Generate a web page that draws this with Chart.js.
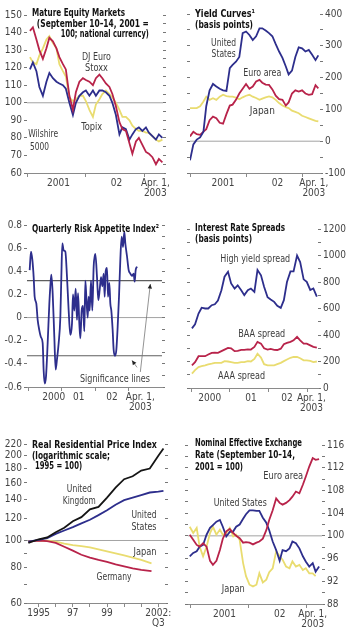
<!DOCTYPE html>
<html>
<head>
<meta charset="utf-8">
<script src="https://cdn.jsdelivr.net/npm/chart.js@4.4.1/dist/chart.umd.min.js"></script>
<style>
  html, body { margin: 0; padding: 0; background: #fff; }
  #wrap { position: relative; width: 350px; height: 636px; overflow: hidden; background: #fff; }
  canvas { position: absolute; }
</style>
</head>
<body>
<div id="wrap">
  <canvas id="equity" width="175" height="210" style="left:0;top:0"></canvas>
  <canvas id="yield" width="175" height="210" style="left:175px;top:0"></canvas>
  <canvas id="risk" width="175" height="210" style="left:0;top:210px"></canvas>
  <canvas id="spreads" width="175" height="210" style="left:175px;top:210px"></canvas>
  <canvas id="housing" width="175" height="216" style="left:0;top:420px"></canvas>
  <canvas id="fx" width="175" height="216" style="left:175px;top:420px"></canvas>
</div>
<script>
// --- data (decimal years on x) ---

// Mature equity markets (Sept 10-14, 2001 = 100)
const eqYears = [2001.05, 2001.10, 2001.16, 2001.21, 2001.27, 2001.33, 2001.38, 2001.44, 2001.50, 2001.55, 2001.61, 2001.66, 2001.72, 2001.78, 2001.83, 2001.89, 2001.95, 2002.00, 2002.06, 2002.12, 2002.17, 2002.23, 2002.28, 2002.34, 2002.40, 2002.45, 2002.51, 2002.57, 2002.62, 2002.68, 2002.74, 2002.79, 2002.85, 2002.90, 2002.96, 2003.02, 2003.07, 2003.13, 2003.19, 2003.24, 2003.30];
const euroStoxx = [141, 143, 136, 130, 125, 131, 137, 135, 131, 126, 122, 119, 104, 96, 106, 112, 114, 113, 112, 110, 114, 116, 114, 111, 109, 105, 98, 89, 85, 84, 77, 71, 78, 80, 76, 72, 71, 69, 65, 68, 66];
const wilshire = [119, 123, 118, 109, 104, 112, 117, 114, 112, 111, 110, 108, 100, 93, 100, 104, 106, 107, 104, 107, 104, 107, 107, 106, 104, 100, 93, 82, 86, 85, 79, 82, 85, 86, 84, 86, 83, 81, 79, 82, 80];
const topix = [126, 123, 122, 127, 131, 136, 138, 134, 131, 122, 118, 115, 103, 101, 102, 104, 104, 101, 96, 92, 99, 102, 105, 107, 105, 103, 100, 96, 92, 92, 90, 87, 85, 84, 84, 83, 83, 81, 79, 78, 79];

// Yield curves (basis points)
const ycYears = [2001.00, 2001.06, 2001.12, 2001.18, 2001.24, 2001.29, 2001.35, 2001.41, 2001.47, 2001.53, 2001.59, 2001.65, 2001.71, 2001.76, 2001.82, 2001.88, 2001.94, 2002.00, 2002.06, 2002.12, 2002.18, 2002.24, 2002.29, 2002.35, 2002.41, 2002.47, 2002.53, 2002.59, 2002.65, 2002.71, 2002.76, 2002.82, 2002.88, 2002.94, 2003.00, 2003.06, 2003.12, 2003.18, 2003.24, 2003.29];
const ycUS = [-60, -10, 5, 12, 30, 110, 160, 180, 172, 165, 160, 158, 230, 240, 250, 265, 340, 345, 334, 318, 330, 355, 355, 348, 340, 330, 305, 282, 262, 235, 210, 222, 265, 295, 292, 282, 287, 272, 255, 270];
const ycEuro = [15, 30, 22, 20, 30, 38, 66, 77, 72, 58, 55, 85, 112, 115, 130, 150, 165, 180, 165, 172, 188, 193, 184, 178, 177, 163, 143, 132, 130, 112, 122, 150, 160, 156, 160, 150, 146, 148, 176, 166];
const ycJapan = [104, 104, 104, 110, 125, 140, 130, 135, 130, 140, 146, 142, 140, 140, 137, 132, 138, 143, 146, 140, 136, 130, 134, 138, 141, 138, 130, 120, 112, 107, 104, 96, 92, 88, 80, 76, 72, 68, 64, 62];

// Quarterly risk appetite index
const riskYears = [2000.03, 2000.07, 2000.11, 2000.15, 2000.18, 2000.23, 2000.27, 2000.32, 2000.37, 2000.42, 2000.45, 2000.48, 2000.52, 2000.57, 2000.62, 2000.65, 2000.68, 2000.72, 2000.77, 2000.81, 2000.85, 2000.90, 2000.95, 2000.98, 2001.01, 2001.05, 2001.10, 2001.15, 2001.20, 2001.25, 2001.30, 2001.33, 2001.37, 2001.41, 2001.45, 2001.48, 2001.52, 2001.55, 2001.59, 2001.63, 2001.67, 2001.70, 2001.73, 2001.77, 2001.80, 2001.83, 2001.87, 2001.91, 2001.95, 2002.00, 2002.05, 2002.09, 2002.13, 2002.17, 2002.21, 2002.25, 2002.28, 2002.31, 2002.35, 2002.38, 2002.42, 2002.45, 2002.48, 2002.52, 2002.55, 2002.59, 2002.63, 2002.67, 2002.71, 2002.75, 2002.79, 2002.83, 2002.87, 2002.90, 2002.95, 2003.00, 2003.05, 2003.10, 2003.15, 2003.18, 2003.21, 2003.25];
const riskIndex = [0.41, 0.57, 0.50, 0.35, 0.18, 0.12, -0.02, -0.11, -0.17, -0.22, -0.46, -0.57, -0.51, -0.22, 0.12, 0.27, 0.37, 0.21, -0.17, -0.45, -0.36, -0.22, 0.0, 0.35, 0.64, 0.58, 0.57, 0.35, 0.06, -0.15, -0.05, 0.20, 0.06, 0.25, -0.02, 0.21, -0.05, -0.18, 0.06, 0.10, -0.12, 0.32, 0.18, 0.0, 0.18, 0.06, 0.32, 0.06, 0.44, 0.55, 0.35, 0.15, 0.24, 0.35, 0.27, 0.38, 0.18, 0.40, 0.43, 0.18, 0.30, 0.12, 0.06, -0.11, -0.28, -0.33, -0.28, -0.08, 0.18, 0.50, 0.70, 0.61, 0.74, 0.64, 0.53, 0.41, 0.38, 0.36, 0.38, 0.31, 0.41, 0.44];
const sigUpper = 0.32;
const sigLower = -0.33;

// Interest rate spreads (basis points)
const spreadYears = [2000.02, 2000.10, 2000.19, 2000.27, 2000.36, 2000.44, 2000.53, 2000.61, 2000.69, 2000.78, 2000.86, 2000.95, 2001.03, 2001.12, 2001.20, 2001.29, 2001.37, 2001.46, 2001.54, 2001.63, 2001.71, 2001.80, 2001.88, 2001.97, 2002.05, 2002.14, 2002.22, 2002.31, 2002.39, 2002.47, 2002.56, 2002.64, 2002.73, 2002.81, 2002.90, 2002.98, 2003.07, 2003.15, 2003.24];
const highYield = [450, 480, 562, 606, 600, 600, 625, 632, 660, 738, 840, 877, 789, 750, 775, 738, 701, 738, 751, 726, 890, 850, 764, 685, 668, 650, 620, 605, 663, 800, 880, 880, 1000, 950, 820, 801, 740, 751, 690];
const baaSpread = [171, 195, 240, 240, 240, 253, 265, 266, 265, 278, 290, 303, 300, 278, 280, 288, 288, 292, 290, 310, 348, 335, 300, 290, 295, 288, 287, 297, 330, 340, 348, 360, 386, 360, 335, 335, 322, 310, 305];
const aaaSpread = [108, 135, 158, 165, 171, 178, 184, 190, 190, 190, 203, 200, 196, 190, 190, 196, 196, 203, 200, 220, 259, 230, 180, 171, 171, 171, 180, 190, 203, 215, 228, 234, 234, 225, 209, 209, 205, 196, 200];

// Real residential price index (1995 = 100, log scale)
const houseYears = [1994.4, 1995, 1995.5, 1996, 1996.5, 1997, 1997.5, 1998, 1998.5, 1999, 1999.5, 2000, 2000.5, 2001, 2001.5, 2002, 2002.3];
const ukPrices = [98, 101, 102.5, 107, 111, 117, 121, 129, 131.5, 142, 154, 165, 169, 177, 180, 200, 212];
const usPrices = [99, 100.5, 102, 105.5, 108.5, 111.5, 115, 118.5, 123, 128, 134, 139, 142, 145, 148, 149, 150];
const houseYears2 = [1994.4, 1995, 1995.5, 1996, 1996.5, 1997, 1997.5, 1998, 1998.5, 1999, 1999.5, 2000, 2000.5, 2001, 2001.6];
const japanPrices = [99, 100, 99.8, 99, 97.5, 96.3, 95.5, 94.5, 93, 91.5, 90, 88.5, 87, 85.3, 83];
const germanyPrices = [99, 100, 99.5, 98, 95, 92, 89, 87, 85.3, 84, 82.3, 81, 79.6, 78.6, 77.8];
const houseTicks = [60, 70, 80, 90, 100, 120, 140, 160, 180, 200, 220];
const houseTickLabels = [60, 80, 100, 120, 140, 160, 180, 200, 220];

// Nominal effective exchange rate (Sept 10-14, 2001 = 100)
const fxYears = [2000.98, 2001.04, 2001.10, 2001.15, 2001.21, 2001.27, 2001.33, 2001.38, 2001.44, 2001.50, 2001.55, 2001.61, 2001.67, 2001.73, 2001.78, 2001.84, 2001.90, 2001.95, 2002.01, 2002.07, 2002.13, 2002.18, 2002.24, 2002.30, 2002.35, 2002.41, 2002.47, 2002.53, 2002.58, 2002.64, 2002.70, 2002.75, 2002.81, 2002.87, 2002.93, 2002.98, 2003.04, 2003.10, 2003.15, 2003.21];
const fxUS = [96.4, 97, 97.3, 98.1, 98.4, 100.2, 101.4, 101.9, 102.5, 102.8, 101.6, 99.9, 100.7, 100.8, 101.6, 102, 103, 103.8, 104.5, 104.5, 104.4, 104.4, 103.2, 102.3, 101, 99, 97.5, 95.6, 97.5, 97.3, 97.8, 99, 98.7, 97.8, 96.4, 95.5, 94.6, 95.2, 93.7, 94.6];
const fxEuro = [100.2, 99.3, 98.4, 98.1, 98.7, 98.1, 95.6, 94.9, 95.6, 97.5, 99.5, 100.8, 101.2, 100.5, 100, 99.6, 98.8, 98.9, 98.8, 98.5, 98.8, 99, 99.5, 101, 102.8, 104.5, 106.6, 105.8, 105.5, 105.8, 106.3, 106.9, 107.8, 107.5, 109, 110.4, 112.2, 113.7, 113.4, 113.5];
const fxJapan = [101.6, 100.5, 101.4, 98.1, 96.4, 98.1, 100.5, 101.6, 100.2, 101.1, 100.2, 100.5, 101.4, 99.9, 100.2, 99.3, 95.2, 92.9, 91.4, 91.1, 91.4, 93.4, 91.8, 92.3, 93.6, 94.3, 97.3, 96.4, 95.8, 94.6, 94.3, 95.5, 94.6, 94.9, 94, 94.3, 93.4, 93.4, 92.9, null];

// --- styling ---
const FONT = "'Liberation Sans Narrow', 'DejaVu Sans Condensed', 'Arial Narrow', sans-serif";
const NAVY = '#2d2e8c';
const RED = '#b8234a';
const YELLOW = '#e9dc70';
const BLACK = '#151515';
const REF = '#a3a3a3';
const AXIS = '#8a8a8a';
const TICK = '#444';

Chart.defaults.font.family = FONT;
Chart.defaults.font.size = 10;
Chart.defaults.color = TICK;

function series(xs, ys, color, width) {
    return {
        data: xs.map((x, i) => ({ x: x, y: ys[i] })),
        borderColor: color, backgroundColor: color,
        borderWidth: width || 1.8, pointRadius: 0, tension: 0, fill: false
    };
}

function refLine(range, level, color, width) {
    return series(range, [level, level], color, width || 1);
}

// x axis: tick marks at year boundaries, labels in between
function xAxis(range, marks, labelVals, labelTexts, height) {
    return {
        type: 'linear', position: 'bottom', min: range[0], max: range[1],
        afterBuildTicks: axis => { axis.ticks = marks.concat(labelVals.filter(v => marks.indexOf(v) < 0)).map(v => ({ value: v })); },
        afterFit: axis => { axis.height = height; },
        ticks: {
            autoSkip: false, maxRotation: 0, minRotation: 0, padding: 1, color: TICK,
            font: { size: 10, lineHeight: 1.05 },
            callback: v => { const i = labelVals.indexOf(v); return i >= 0 ? labelTexts[i] : ''; }
        },
        grid: {
            drawOnChartArea: false, drawTicks: true, tickLength: 4, lineWidth: 1,
            color: c => (c.tick && marks.indexOf(c.tick.value) >= 0) ? AXIS : 'rgba(0,0,0,0)'
        },
        border: { display: true, color: AXIS, width: 1 }
    };
}

function yAxis(pos, min, max, step, width, fmt) {
    return {
        type: 'linear', position: pos, min: min, max: max,
        afterFit: axis => { axis.width = width; },
        ticks: {
            stepSize: step, autoSkip: false, padding: 2, color: TICK, font: { size: 10 },
            callback: fmt ? fmt : () => ''
        },
        grid: { drawOnChartArea: false, drawTicks: true, tickLength: 3, color: '#777', lineWidth: 1 },
        border: { display: false }
    };
}

function logAxis(pos, width, showLabels) {
    return {
        type: 'logarithmic', position: pos, min: 60, max: 220,
        afterBuildTicks: axis => { axis.ticks = houseTicks.map(v => ({ value: v })); },
        afterFit: axis => { axis.width = width; },
        ticks: {
            autoSkip: false, padding: 2, color: TICK, font: { size: 10 },
            callback: v => (showLabels && houseTickLabels.indexOf(v) >= 0) ? String(v) : ''
        },
        grid: { drawOnChartArea: false, drawTicks: true, tickLength: 3, color: '#777', lineWidth: 1 },
        border: { display: false }
    };
}

// in-chart texts and arrows, placed in data coordinates; w = max width in px
function textPlugin(items, arrows) {
    return {
        id: 'panelText',
        afterDatasetsDraw(chart) {
            const ctx = chart.ctx;
            const sx = chart.scales.x, sy = chart.scales.y;
            items.forEach(t => {
                ctx.save();
                ctx.font = (t.b ? 'bold 10px ' : '10px ') + FONT;
                ctx.fillStyle = t.b ? '#111' : '#3c3c3c';
                ctx.textAlign = t.a || 'left';
                ctx.textBaseline = 'middle';
                const px = sx.getPixelForValue(t.x), py = sy.getPixelForValue(t.y);
                if (t.w) ctx.fillText(t.t, px, py, t.w); else ctx.fillText(t.t, px, py);
                ctx.restore();
            });
            (arrows || []).forEach(a => {
                const x1 = sx.getPixelForValue(a.x1), y1 = sy.getPixelForValue(a.y1);
                const x2 = sx.getPixelForValue(a.x2), y2 = sy.getPixelForValue(a.y2);
                const ang = Math.atan2(y2 - y1, x2 - x1);
                ctx.save();
                ctx.strokeStyle = '#777';
                ctx.fillStyle = '#222';
                ctx.lineWidth = 0.8;
                ctx.beginPath(); ctx.moveTo(x1, y1); ctx.lineTo(x2, y2); ctx.stroke();
                ctx.beginPath();
                ctx.moveTo(x2, y2);
                ctx.lineTo(x2 - 5 * Math.cos(ang - 0.45), y2 - 5 * Math.sin(ang - 0.45));
                ctx.lineTo(x2 - 5 * Math.cos(ang + 0.45), y2 - 5 * Math.sin(ang + 0.45));
                ctx.closePath(); ctx.fill();
                ctx.restore();
            });
        }
    };
}

function makeChart(id, cfg) {
    new Chart(document.getElementById(id), {
        type: 'line',
        data: { datasets: cfg.datasets },
        options: {
            responsive: false, animation: false, devicePixelRatio: 1,
            layout: { padding: { top: cfg.top, left: 0, right: 0, bottom: 0 } },
            plugins: { legend: { display: false }, tooltip: { enabled: false } },
            scales: { x: cfg.x, y: cfg.y, y2: cfg.y2 }
        },
        plugins: [textPlugin(cfg.texts, cfg.arrows)]
    });
}

const aprLabel = ['Apr. 1,', '2003'];

// --- 1. Mature equity markets ---
const eqRange = [2001.0, 2003.31];
makeChart('equity', {
    top: 15,
    datasets: [
        series(eqYears, euroStoxx, RED),
        series(eqYears, wilshire, NAVY),
        series(eqYears, topix, YELLOW),
        refLine(eqRange, 100, REF)
    ],
    x: xAxis(eqRange, [2001, 2002, 2003], [2001.535, 2002.52, 2003.18], ['2001', '02', aprLabel], 37),
    y: yAxis('left', 60, 150, 10, 27, v => String(v)),
    y2: yAxis('right', 60, 150, 5, 12),
    texts: [
        { t: 'Mature Equity Markets', x: 2001.085, y: 151.1, b: 1, w: 93 },
        { t: '(September 10–14, 2001 =', x: 2003.07, y: 144.9, b: 1, a: 'right', w: 112 },
        { t: '100; national currency)', x: 2003.07, y: 139.2, b: 1, a: 'right', w: 88 },
        { t: 'DJ Euro', x: 2002.18, y: 126.1, a: 'center', w: 29 },
        { t: 'Stoxx', x: 2002.18, y: 119.8, a: 'center', w: 23 },
        { t: 'Topix', x: 2002.10, y: 86.2, a: 'center', w: 21 },
        { t: 'Wilshire', x: 2001.02, y: 81.7, w: 30 },
        { t: '5000', x: 2001.05, y: 74.8, w: 19 }
    ]
});

// --- 2. Yield curves ---
const ycRange = [2001.0, 2003.32];
makeChart('yield', {
    top: 14,
    datasets: [
        series(ycYears, ycUS, NAVY),
        series(ycYears, ycEuro, RED),
        series(ycYears, ycJapan, YELLOW),
        refLine(ycRange, 0, REF)
    ],
    x: xAxis(ycRange, [2001, 2002, 2003], [2001.59, 2002.56, 2003.21], ['2001', '02', aprLabel], 37),
    y: yAxis('left', -100, 400, 50, 15),
    y2: yAxis('right', -100, 400, 50, 30, v => (v % 100 === 0 ? String(v) : '')),
    texts: [
        { t: 'Yield Curves¹', x: 2001.09, y: 400, b: 1, w: 60 },
        { t: '(basis points)', x: 2001.09, y: 365, b: 1, w: 58 },
        { t: 'United', x: 2001.6, y: 309, a: 'center', w: 25 },
        { t: 'States', x: 2001.6, y: 274, a: 'center', w: 24 },
        { t: 'Euro area', x: 2002.29, y: 214, a: 'center', w: 38 },
        { t: 'Japan', x: 2002.29, y: 95, a: 'center', w: 27 }
    ]
});

// --- 3. Risk appetite ---
const riskRange = [1999.95, 2004.0];
const riskLine = series(riskYears, riskIndex, NAVY, 1.8);
riskLine.cubicInterpolationMode = 'monotone';
makeChart('risk', {
    top: 15,
    datasets: [
        riskLine,
        refLine(riskRange, sigUpper, '#5e5e5e', 1.2),
        refLine(riskRange, sigLower, '#5e5e5e', 1.2),
        refLine(riskRange, 0, REF)
    ],
    x: xAxis(riskRange, [2000, 2001, 2002, 2003], [2000.75, 2001.5, 2002.5, 2003.35], ['2000', '01', '02', aprLabel], 33),
    y: yAxis('left', -0.6, 0.8, 0.2, 27, v => (Math.abs(v) < 1e-9 ? '0' : String(Math.round(v * 10) / 10))),
    y2: yAxis('right', -0.6, 0.8, 0.1, 13),
    texts: [
        { t: 'Quarterly Risk Appetite Index²', x: 2000.10, y: 0.765, b: 1, w: 127 },
        { t: 'Significance lines', x: 2002.59, y: -0.531, a: 'center', w: 70 }
    ],
    arrows: [
        { x1: 2003.35, y1: -0.47, x2: 2003.65, y2: 0.29 },
        { x1: 2003.25, y1: -0.43, x2: 2003.1, y2: -0.37 }
    ]
});

// --- 4. Interest rate spreads ---
const spreadRange = [1999.97, 2003.27];
makeChart('spreads', {
    top: 19,
    datasets: [
        series(spreadYears, highYield, NAVY),
        series(spreadYears, baaSpread, RED),
        series(spreadYears, aaaSpread, YELLOW)
    ],
    x: xAxis(spreadRange, [2000, 2001, 2002, 2003], [2000.48, 2001.54, 2002.47, 2003.1], ['2000', '01', '02', aprLabel], 32),
    y: yAxis('left', 0, 1200, 100, 15),
    y2: yAxis('right', 0, 1200, 100, 32, v => (v % 200 === 0 ? String(v) : '')),
    texts: [
        { t: 'Interest Rate Spreads', x: 2000.10, y: 1207, b: 1, w: 90 },
        { t: '(basis points)', x: 2000.10, y: 1125, b: 1, w: 57 },
        { t: 'High yield spread', x: 2001.65, y: 974, a: 'center', w: 70 },
        { t: 'BAA spread', x: 2001.82, y: 408, a: 'center', w: 47 },
        { t: 'AAA spread', x: 2001.30, y: 91, a: 'center', w: 47 }
    ]
});

// --- 5. Real residential prices ---
const houseRange = [1994.32, 2002.39];
makeChart('housing', {
    top: 24,
    datasets: [
        series(houseYears, ukPrices, BLACK),
        series(houseYears, usPrices, NAVY),
        series(houseYears2, germanyPrices, RED),
        series(houseYears2, japanPrices, YELLOW),
        refLine(houseRange, 100, REF)
    ],
    x: xAxis(houseRange, [1995, 1996, 1997, 1998, 1999, 2000, 2001, 2002], [1995, 1997, 1999, 2002], ['1995', '97', '99', ['2002:', 'Q3']], 33),
    y: logAxis('left', 27, true),
    y2: logAxis('right', 10, false),
    texts: [
        { t: 'Real Residential Price Index', x: 1994.61, y: 217, b: 1, w: 125 },
        { t: '(logarithmic scale;', x: 1994.61, y: 198, b: 1, w: 78 },
        { t: '1995 = 100)', x: 1994.79, y: 183, b: 1, w: 47 },
        { t: 'United', x: 1997.38, y: 152, a: 'center', w: 25 },
        { t: 'Kingdom', x: 1997.38, y: 138, a: 'center', w: 33 },
        { t: 'United', x: 2001.16, y: 122.3, a: 'center', w: 25 },
        { t: 'States', x: 2001.16, y: 111, a: 'center', w: 25 },
        { t: 'Japan', x: 2001.22, y: 90.8, a: 'center', w: 23 },
        { t: 'Germany', x: 1999.41, y: 74.2, a: 'center', w: 35 }
    ]
});

// --- 6. Nominal effective exchange rates ---
const fxRange = [2000.95, 2003.26];
makeChart('fx', {
    top: 25,
    datasets: [
        series(fxYears, fxEuro, RED),
        series(fxYears, fxUS, NAVY),
        series(fxYears, fxJapan, YELLOW),
        refLine(fxRange, 100, REF)
    ],
    x: xAxis(fxRange, [2001, 2002, 2003], [2001.58, 2002.53, 2003.1], ['2001', '02', aprLabel], 32),
    y: yAxis('left', 88, 116, 2, 13),
    y2: yAxis('right', 88, 116, 2, 28, v => ((v - 88) % 4 === 0 ? String(v) : '')),
    texts: [
        { t: 'Nominal Effective Exchange', x: 2001.07, y: 116.2, b: 1, w: 107 },
        { t: 'Rate (September 10–14,', x: 2001.07, y: 114.2, b: 1, w: 100 },
        { t: '2001 = 100)', x: 2001.07, y: 112.1, b: 1, w: 48 },
        { t: 'Euro area', x: 2002.59, y: 110.4, a: 'center', w: 40 },
        { t: 'United States', x: 2001.85, y: 105.8, a: 'center', w: 53 },
        { t: 'Japan', x: 2001.73, y: 90.5, a: 'center', w: 23 }
    ]
});
</script>
</body>
</html>
